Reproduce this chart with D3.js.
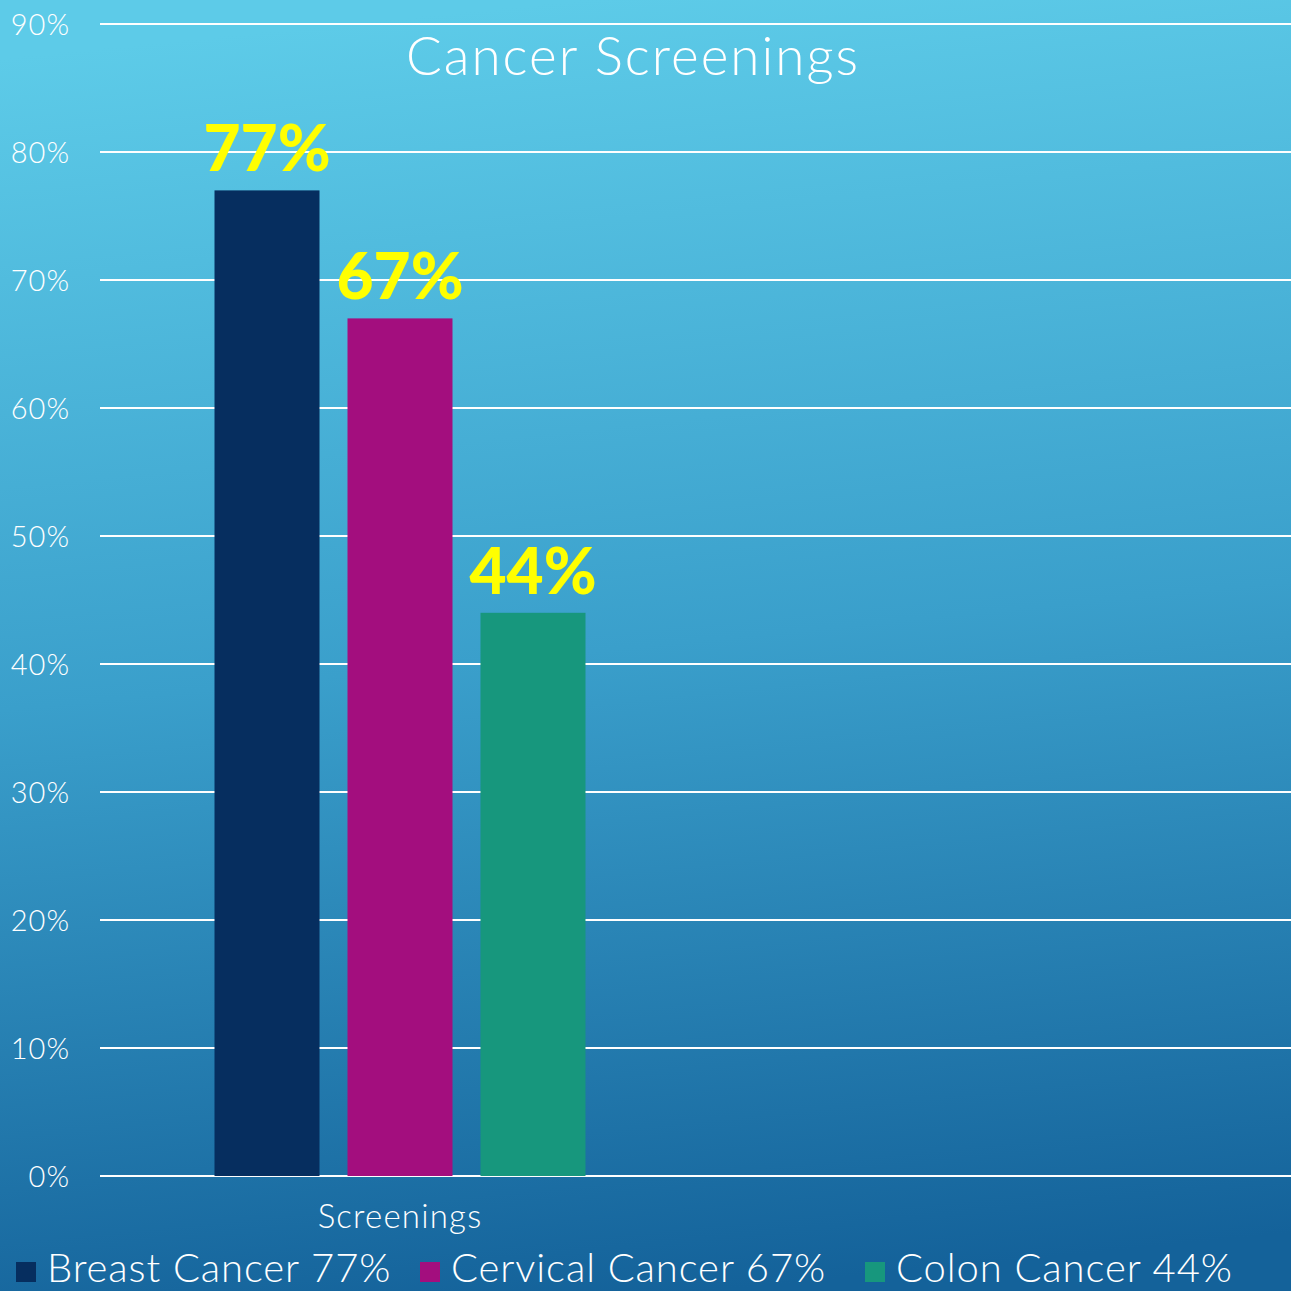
<!DOCTYPE html>
<html>
<head>
<meta charset="utf-8">
<script src="https://cdn.jsdelivr.net/npm/d3@7"></script>
<style>
  html, body { margin: 0; padding: 0; background: #1a6ea3; }
  svg { display: block; }
  text { font-family: "Lato", "Open Sans", sans-serif; }
</style>
</head>
<body>
<svg id="chart" width="1291" height="1291"></svg>
<script>
// Chart data
const categories = ["Screenings"];
const seriesNames = ["Breast Cancer", "Cervical Cancer", "Colon Cancer"];
const seriesValues = [0.77, 0.67, 0.44];
const seriesColors = ["#062e5f", "#a30e7e", "#17977d"];
const yTicks = [0, 0.1, 0.2, 0.3, 0.4, 0.5, 0.6, 0.7, 0.8, 0.9];
const titleText = "Cancer Screenings";

const W = 1291, H = 1291;
const svg = d3.select("#chart");
const pct = d3.format(".0%");

// Background gradient
const defs = svg.append("defs");
const grad = defs.append("linearGradient")
  .attr("id", "bg").attr("x1", "0.45").attr("y1", "0").attr("x2", "0.55").attr("y2", "1");
grad.append("stop").attr("offset", "0%").attr("stop-color", "#5dcbe8");
grad.append("stop").attr("offset", "50%").attr("stop-color", "#3a9fcb");
grad.append("stop").attr("offset", "100%").attr("stop-color", "#14629a");
svg.append("rect").attr("width", W).attr("height", H).attr("fill", "url(#bg)");

// Scales
const plotLeft = 100, plotRight = W;
const y = d3.scaleLinear().domain([0, 0.9]).range([1176, 24]);
const x0 = d3.scaleBand().domain(categories).range([plotLeft, 700]);
const x1 = d3.scaleBand().domain(seriesNames).range([0, x0.bandwidth()])
  .paddingInner(0.2105).paddingOuter(0.861);

// Gridlines
svg.append("g").selectAll("line").data(yTicks).join("line")
  .attr("x1", plotLeft).attr("x2", plotRight)
  .attr("y1", d => y(d)).attr("y2", d => y(d))
  .attr("stroke", "#ffffff").attr("stroke-width", 2);

// Y axis labels
const yAxis = d3.axisLeft(y).tickValues(yTicks).tickFormat(pct).tickSize(0).tickPadding(0);
const yg = svg.append("g").attr("transform", "translate(70,0)").call(yAxis);
yg.select(".domain").remove();
yg.selectAll("text")
  .attr("fill", "#ffffff").attr("font-size", 29).attr("font-weight", 300)
  .attr("dy", "0.35em")
  .attr("letter-spacing", 1)
  .style("font-family", "Lato, 'Open Sans', sans-serif");

// Bars
const barData = seriesNames.map((s, i) => ({ cat: categories[0], name: s, value: seriesValues[i], color: seriesColors[i] }));
const gBars = svg.append("g");
gBars.selectAll("rect").data(barData).join("rect")
  .attr("x", d => x0(d.cat) + x1(d.name))
  .attr("y", d => y(d.value))
  .attr("width", x1.bandwidth())
  .attr("height", d => y(0) - y(d.value))
  .attr("fill", d => d.color);

// Value labels
gBars.selectAll("text").data(barData).join("text")
  .attr("x", d => x0(d.cat) + x1(d.name) + x1.bandwidth() / 2)
  .attr("y", d => y(d.value) - 19)
  .attr("text-anchor", "middle")
  .attr("fill", "#ffff00")
  .attr("font-size", 64).attr("font-weight", 900)
  .text(d => pct(d.value));

// X axis category label
const xAxis = d3.axisBottom(x0).tickSize(0).tickPadding(0);
const xg = svg.append("g").attr("transform", "translate(0,1228)").call(xAxis);
xg.select(".domain").remove();
xg.selectAll("text")
  .attr("fill", "#ffffff").attr("font-size", 33).attr("font-weight", 300)
  .attr("dy", 0).attr("y", 0)
  .attr("letter-spacing", 1.2)
  .style("font-family", "Lato, 'Open Sans', sans-serif");

// Title
svg.append("text")
  .attr("x", 633).attr("y", 75)
  .attr("text-anchor", "middle")
  .attr("fill", "#ffffff").attr("font-size", 53).attr("font-weight", 300)
  .attr("letter-spacing", 2)
  .text(titleText);

// Legend
const legendX = [16, 420, 865];
const lg = svg.append("g");
const items = lg.selectAll("g").data(barData).join("g")
  .attr("transform", (d, i) => `translate(${legendX[i]},0)`);
items.append("rect").attr("x", 0).attr("y", 1262).attr("width", 20).attr("height", 20).attr("fill", d => d.color);
items.append("text").attr("x", 31).attr("y", 1282)
  .attr("fill", "#ffffff").attr("font-size", 40).attr("font-weight", 300)
  .attr("letter-spacing", 0.9)
  .text(d => `${d.name} ${pct(d.value)}`);
</script>
</body>
</html>
